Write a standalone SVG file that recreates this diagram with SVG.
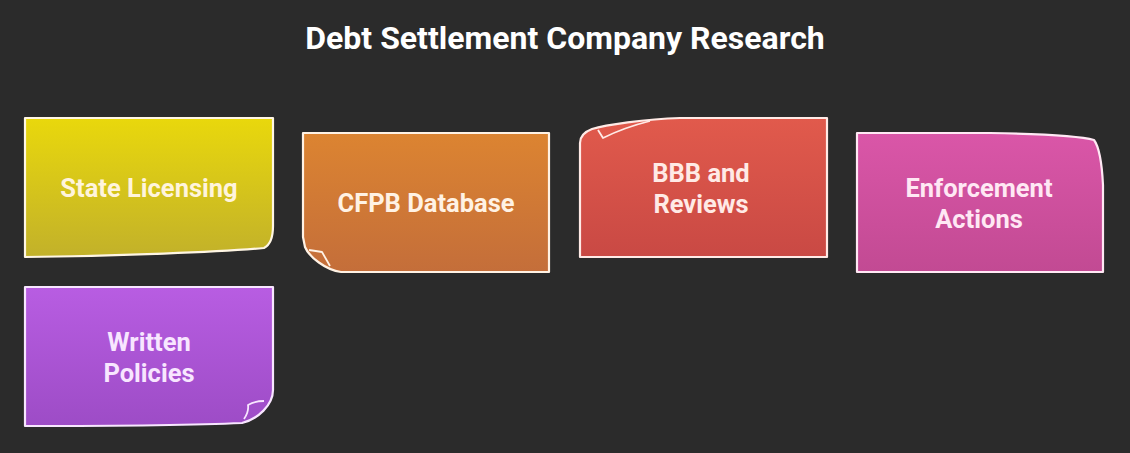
<svg xmlns="http://www.w3.org/2000/svg" width="1130" height="453" viewBox="0 0 1130 453">
<defs>
<linearGradient id="gY" x1="0" y1="0" x2="0" y2="1"><stop offset="0" stop-color="#e9d80c"/><stop offset="1" stop-color="#c2b12a"/></linearGradient>
<linearGradient id="gO" x1="0" y1="0" x2="0" y2="1"><stop offset="0" stop-color="#dc8431"/><stop offset="1" stop-color="#c46e3a"/></linearGradient>
<linearGradient id="gR" x1="0" y1="0" x2="0" y2="1"><stop offset="0" stop-color="#e15a4c"/><stop offset="1" stop-color="#c94944"/></linearGradient>
<linearGradient id="gP" x1="0" y1="0" x2="0" y2="1"><stop offset="0" stop-color="#da56a8"/><stop offset="1" stop-color="#c24a93"/></linearGradient>
<linearGradient id="gV" x1="0" y1="0" x2="0" y2="1"><stop offset="0" stop-color="#b85de2"/><stop offset="1" stop-color="#9d4cc6"/></linearGradient>
</defs>
<style>
.note{stroke-width:2.2;stroke-linejoin:round}
.fold{fill:none;stroke-width:1.8;stroke-linejoin:round}
.lbl{font-family:Roboto,"Liberation Sans",sans-serif;font-weight:700;font-size:25.5px;text-anchor:middle}
.title{font-family:Roboto,"Liberation Sans",sans-serif;font-weight:700;font-size:32px;fill:#ffffff;text-anchor:middle}
</style>
<rect width="1130" height="453" fill="#2b2b2b"/>
<text class="title" x="565" y="49">Debt Settlement Company Research</text>
<g id="connectors"/>
<g id="node-state-licensing">
<path class="note" fill="url(#gY)" stroke="#fff6e4" d="M25,118 L273,118 L273,226 C273,238 270,245 264,248 C220,252 120,256 25,257 Z"/>
<text class="lbl" fill="#fff4dc" x="149" y="197">State Licensing</text>
</g>
<g id="node-cfpb-database">
<path class="note" fill="url(#gO)" stroke="#fff2e4" d="M303,133 L549,133 L549,272 L341,272 C326,270 309,257 305,247 L303,237 Z"/>
<path class="fold" stroke="#fff2e4" d="M309,250 Q316,251 322,252 Q326,259 330,266"/>
<text class="lbl" fill="#fff2e4" x="426" y="212">CFPB Database</text>
</g>
<g id="node-bbb-reviews">
<path class="note" fill="url(#gR)" stroke="#ffeae6" d="M580,257 L827,257 L827,118 L680,118 C645,119 605,125 592,129 C584,132 580,137 580,143 Z"/>
<path class="fold" stroke="#ffeae6" d="M598,130 L603,138 C615,132 630,126 650,121"/>
<text class="lbl" fill="#ffeae6" x="701" y="182">BBB and</text>
<text class="lbl" fill="#ffeae6" x="701" y="213">Reviews</text>
</g>
<g id="node-enforcement-actions">
<path class="note" fill="url(#gP)" stroke="#ffe8f4" d="M857,133 L990,133 C1040,134 1080,136 1094,140 C1100,148 1102,165 1103,185 L1103,272 L857,272 Z"/>
<text class="lbl" fill="#ffe8f4" x="979" y="197">Enforcement</text>
<text class="lbl" fill="#ffe8f4" x="979" y="228">Actions</text>
</g>
<g id="node-written-policies">
<path class="note" fill="url(#gV)" stroke="#f8e6ff" d="M25,287 L273,287 L273,390 C273,405 258,419 242,423 C200,425 100,426 25,426 Z"/>
<path class="fold" stroke="#f8e6ff" d="M264,401 Q255,401 248,405 Q249,412 244,419"/>
<text class="lbl" fill="#f8e6ff" x="149" y="351">Written</text>
<text class="lbl" fill="#f8e6ff" x="149" y="382">Policies</text>
</g>
</svg>
